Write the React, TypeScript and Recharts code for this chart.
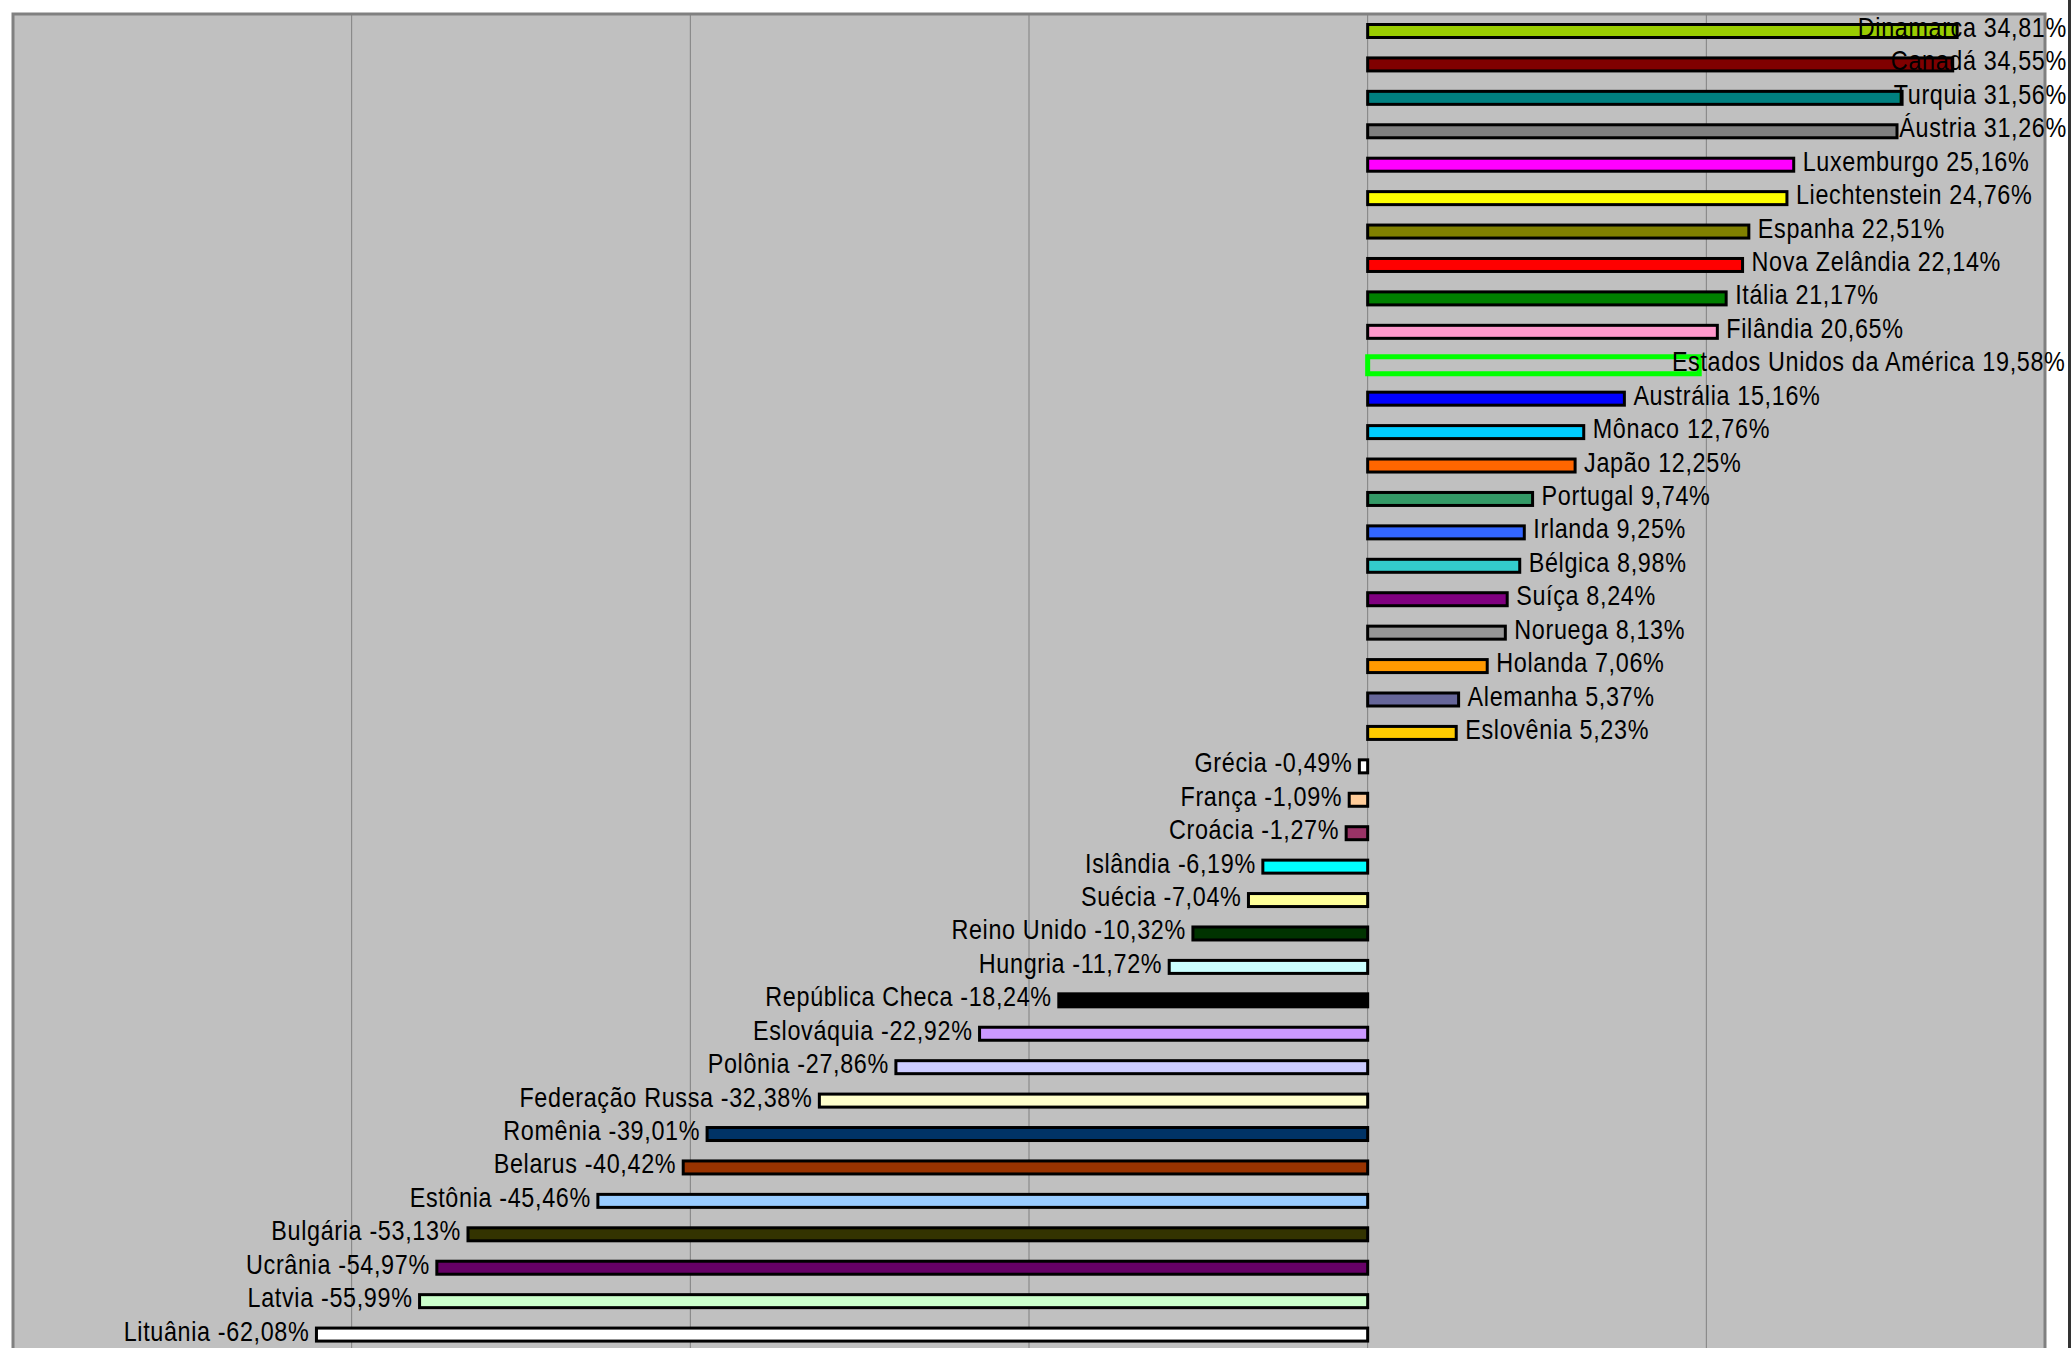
import React from 'react';
import { BarChart, Bar, XAxis, YAxis, CartesianGrid, ReferenceArea } from 'recharts';

const countries = [
  'Dinamarca', 'Canadá', 'Turquia', 'Áustria', 'Luxemburgo', 'Liechtenstein', 'Espanha', 'Nova Zelândia',
  'Itália', 'Filândia', 'Estados Unidos da América', 'Austrália', 'Mônaco', 'Japão', 'Portugal', 'Irlanda',
  'Bélgica', 'Suíça', 'Noruega', 'Holanda', 'Alemanha', 'Eslovênia', 'Grécia', 'França', 'Croácia',
  'Islândia', 'Suécia', 'Reino Unido', 'Hungria', 'República Checa', 'Eslováquia', 'Polônia',
  'Federação Russa', 'Romênia', 'Belarus', 'Estônia', 'Bulgária', 'Ucrânia', 'Latvia', 'Lituânia',
];

const values = [
  34.81, 34.55, 31.56, 31.26, 25.16, 24.76, 22.51, 22.14, 21.17, 20.65, 19.58, 15.16, 12.76, 12.25, 9.74, 9.25,
  8.98, 8.24, 8.13, 7.06, 5.37, 5.23, -0.49, -1.09, -1.27, -6.19, -7.04, -10.32, -11.72, -18.24, -22.92, -27.86,
  -32.38, -39.01, -40.42, -45.46, -53.13, -54.97, -55.99, -62.08,
];

const fills = [
  '#99CC00', '#800000', '#008080', '#808080', '#FF00FF', '#FFFF00', '#808000', '#FF0000',
  '#008000', '#FF99CC', 'none', '#0000FF', '#00CCFF', '#FF6600', '#339966', '#3366FF',
  '#33CCCC', '#800080', '#969696', '#FF9900', '#666699', '#FFCC00', '#FFFFFF', '#FFCC99', '#993366',
  '#00FFFF', '#FFFF99', '#003300', '#CCFFFF', '#000000', '#CC99FF', '#CCCCFF',
  '#FFFFCC', '#003366', '#993300', '#99CCFF', '#333300', '#660066', '#CCFFCC', '#FFFFFF',
];

const strokes = countries.map((c) => (c === 'Estados Unidos da América' ? '#00FF00' : '#000000'));

const xTicks = [-80, -60, -40, -20, 0, 20, 40];

const data = countries.map((name, i) => ({ name, value: values[i] }));

const FONT_SIZE = 28.5;
const FONT_FAMILY = '"Liberation Sans", Arial, sans-serif';
const LETTER_SPACING = 0.8;
const SCALE_X = 0.82;
const LABEL_RIGHT_LIMIT = 2067;

let ctx: CanvasRenderingContext2D | null = null;
const measure = (text: string) => {
  if (!ctx) {
    const c = document.createElement('canvas');
    ctx = c.getContext('2d');
  }
  if (!ctx) return text.length * 11;
  ctx.font = `${FONT_SIZE}px ${FONT_FAMILY}`;
  return (ctx.measureText(text).width + LETTER_SPACING * text.length) * SCALE_X;
};

const fmt = (v: number) => `${v.toFixed(2).replace('.', ',')}%`;

const Label = ({ x, y, anchor, text }: { x: number; y: number; anchor: 'start' | 'end'; text: string }) => (
  <text
    transform={`translate(${x},${y}) scale(${SCALE_X},1)`}
    x={0}
    y={0}
    fontSize={FONT_SIZE}
    fontFamily={FONT_FAMILY}
    letterSpacing={LETTER_SPACING}
    fill="#000"
    textAnchor={anchor}
  >
    {text}
  </text>
);

const BarShape = (props: any) => {
  const { x, y, width, height, index } = props;
  const left = Math.min(x, x + width);
  const right = Math.max(x, x + width);
  const cy = y + height / 2;
  const v = values[index];
  const label = `${countries[index]} ${fmt(v)}`;
  const isUS = fills[index] === 'none';
  const sw = isUS ? 5 : 3;
  const h = isUS ? 17 : 13;
  let textEl;
  if (v >= 0) {
    let tx = right + 9;
    const w = measure(label);
    if (tx + w > LABEL_RIGHT_LIMIT) tx = LABEL_RIGHT_LIMIT - w;
    textEl = <Label x={tx} y={cy + 6} anchor="start" text={label} />;
  } else {
    textEl = <Label x={left - 7} y={cy + 6} anchor="end" text={label} />;
  }
  return (
    <g>
      <rect
        x={left}
        y={cy - h / 2}
        width={Math.max(right - left, 0.5)}
        height={h}
        fill={isUS ? 'none' : fills[index]}
        stroke={strokes[index]}
        strokeWidth={sw}
      />
      {textEl}
    </g>
  );
};

export default function App() {
  return (
    <div style={{ position: 'absolute', left: 0, top: 0, width: 2071, height: 1348, overflow: 'hidden', background: '#fff' }}>
      <BarChart
        width={2071}
        height={1365}
        data={data}
        layout="vertical"
        margin={{ top: 14, left: 13, right: 26, bottom: 14 }}
      >
        <CartesianGrid horizontal={false} vertical={true} stroke="#808080" strokeWidth={1} fill="#C0C0C0" fillOpacity={1} />
        <XAxis type="number" domain={[-80, 40]} ticks={xTicks} hide />
        <YAxis type="category" dataKey="name" hide />
        <ReferenceArea x1={-80} x2={40} fill="none" stroke="#808080" strokeWidth={3} ifOverflow="visible" />
        <Bar dataKey="value" barSize={12} isAnimationActive={false} shape={BarShape} />
      </BarChart>
      <div style={{ position: 'absolute', left: 2068, top: 0, width: 3, height: 1348, background: '#333' }} />
    </div>
  );
}
